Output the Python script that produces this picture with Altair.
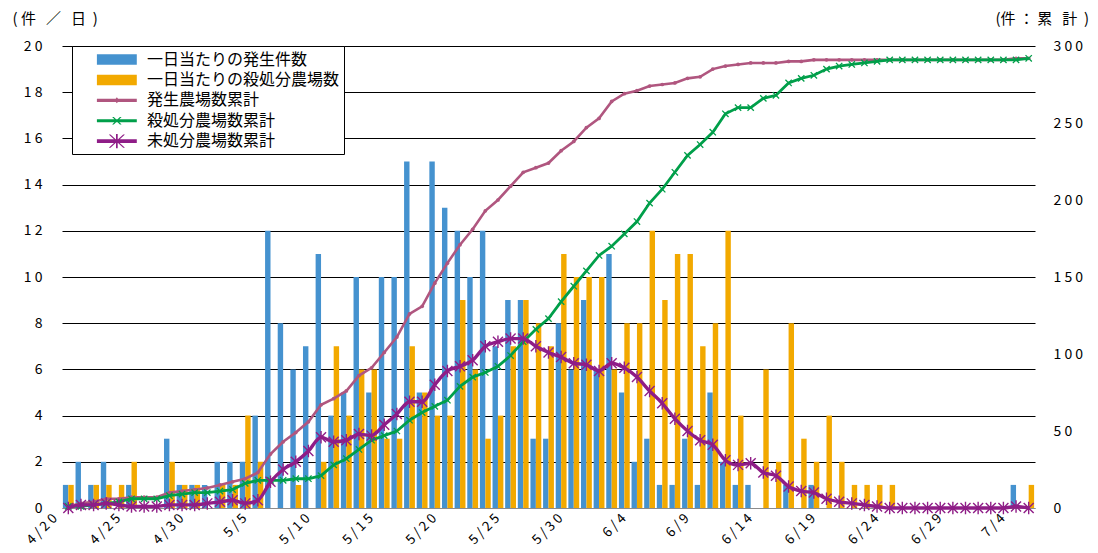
import altair as alt
import pandas as pd
import numpy as np

# ---- data ----
dates = [f"{d.month}/{d.day}" for d in pd.date_range("2010-04-20", "2010-07-05", freq="D")]

daily_cases = [1, 2, 1, 2, 0, 1, 0, 0, 3, 1, 1, 1, 2, 2, 2, 4,
               12, 8, 6, 7, 11, 4, 5, 10, 5, 10, 10,
               15, 5, 15, 13, 12, 10, 12, 7, 9, 9, 3, 3, 8,
               6, 9, 6, 11, 5, 2, 3, 1, 1, 3, 1, 5, 2, 1, 1,
               0, 0, 1, 0, 1,
               0, 0, 0, 0, 0, 0, 0, 0, 0, 0, 0, 0, 0, 0, 0,
               1, 0]
daily_culled = [1, 0, 1, 1, 1, 2, 0, 0, 2, 1, 1, 0, 1, 1, 4, 2,
                0, 0, 1, 0, 2, 7, 4, 6, 6, 3, 3,
                7, 5, 4, 4, 9, 6, 3, 4, 7, 9, 8, 7, 11,
                10, 10, 10, 6, 8, 8, 12, 9, 11, 11, 7, 8, 12, 4, 0,
                6, 2, 8, 3, 2, 4, 2, 1, 1, 1, 1,
                0, 0, 0, 0, 0, 0, 0, 0, 0, 0,
                1]
assert len(dates) == len(daily_cases) == len(daily_culled) == 77

S_CASE = "一日当たりの発生件数"
S_CULL = "一日当たりの殺処分農場数"
S_CUMC = "発生農場数累計"
S_CUMK = "殺処分農場数累計"
S_REM = "未処分農場数累計"
legend_names = [S_CASE, S_CULL, S_CUMC, S_CUMK, S_REM]

cum_cases = np.cumsum(daily_cases).tolist()
cum_culled = np.cumsum(daily_culled).tolist()
remaining = [a - b for a, b in zip(cum_cases, cum_culled)]

# ---- style ----
FONT = "Noto Sans CJK JP"
BLUE = "#4592CF"
ORANGE = "#F2A900"
PINK = "#B0567F"
GREEN = "#009F4A"
PURPLE = "#8F1D87"

NB = "\u00a0"
spaced = f"join(split(datum.label, ''), '{NB}')"

x_scale = alt.Scale(type="band", domain=dates, paddingInner=0, paddingOuter=0)
x_axis = alt.Axis(values=dates[::5], labelAngle=315, labelAlign="right", labelBaseline="top",
                  labelExpr=spaced, labelFont=FONT, labelFontSize=13.5, labelColor="#000000",
                  labelPadding=3, labelOffset=-18, labelOverlap=False, ticks=False,
                  domainColor="#8c8c8c", domainWidth=1, grid=False, title=None)
X = alt.X("date:N", scale=x_scale, axis=x_axis)

title_left = f"({NB}件{NB*3}／{NB*3}日{NB*2})"
title_right = f"(件{NB}：{NB}累{NB*3}計{NB*2})"

yl_axis = alt.Axis(orient="left", values=list(range(0, 21, 2)), format="d", labelExpr=spaced,
                   labelFont=FONT, labelFontSize=14, labelColor="#000000", labelPadding=20,
                   ticks=False, domain=False, grid=True,
                   gridColor={"condition": {"test": "datum.value === 0", "value": "#8c8c8c"},
                              "value": "#000000"},
                   gridWidth=1,
                   title=title_left, titleAngle=0, titleX=-50, titleY=-28,
                   titleAlign="left", titleBaseline="middle", titleFont=FONT,
                   titleFontSize=15, titleFontWeight="normal", titleColor="#000000")
YL = alt.Y("value:Q", scale=alt.Scale(domain=[0, 20], nice=False), axis=yl_axis)

yr_axis = alt.Axis(orient="right", values=list(range(0, 301, 50)), format="d", labelExpr=spaced,
                   labelFont=FONT, labelFontSize=14, labelColor="#000000", labelPadding=18,
                   ticks=False, domain=False, grid=False,
                   title=title_right, titleAngle=0, titleX=-40, titleY=-28,
                   titleAlign="left", titleBaseline="middle", titleFont=FONT,
                   titleFontSize=15, titleFontWeight="normal", titleColor="#000000")
YR = alt.Y("cum:Q", scale=alt.Scale(domain=[0, 300], nice=False), axis=yr_axis)

# ---- bars ----
case_df = pd.DataFrame({"date": dates, "series": S_CASE, "value": daily_cases})
cull_df = pd.DataFrame({"date": dates, "series": S_CULL, "value": daily_culled})
xoff = alt.XOffset("series:N", scale=alt.Scale(domain=[S_CASE, S_CULL], paddingInner=0,
                                               paddingOuter=0.165))
bar_case = alt.Chart(case_df).mark_bar(color=BLUE).encode(x=X, xOffset=xoff, y=YL)
bar_cull = alt.Chart(cull_df).mark_bar(color=ORANGE).encode(x=X, xOffset=xoff, y=YL)

# ---- cumulative lines ----
P_X = "M-1,-1L1,1M-1,1L1,-1"
P_AST = "M-1,-1L1,1M-1,1L1,-1M0,-1.25L0,1.25"


def cum_layers(values, name, color, lw, interp, point_kw):
    df = pd.DataFrame({"date": dates, "series": name, "cum": values})
    base = alt.Chart(df).encode(x=X, y=YR)
    line = base.mark_line(color=color, strokeWidth=lw, interpolate=interp)
    pts = base.mark_point(color=color, opacity=1, **point_kw)
    return [line, pts]


pink = cum_layers(cum_cases, S_CUMC, PINK, 2.6, "linear",
                  dict(filled=True, shape="circle", size=14))
green = cum_layers(cum_culled, S_CUMK, GREEN, 2.8, "linear",
                   dict(filled=False, shape=P_X, size=40, strokeWidth=1.3))
purple = cum_layers(remaining, S_REM, PURPLE, 3.4, "monotone",
                    dict(filled=False, shape=P_AST, size=100, strokeWidth=1.4))

# ---- legend (filled symbol paths) ----
p_rect = "M1.2,-0.55L5.4,-0.55L5.4,0.55L1.2,0.55Z"
p_pink = ("M1.2,-0.17L5.4,-0.17L5.4,0.17L1.2,0.17Z"
          "M3.3,-0.32L3.55,0L3.3,0.32L3.05,0Z")
p_green = ("M1.2,-0.16L5.4,-0.16L5.4,0.16L1.2,0.16Z"
           "M2.8,-0.4L2.98,-0.4L3.8,0.4L3.62,0.4Z"
           "M3.62,-0.4L3.8,-0.4L2.98,0.4L2.8,0.4Z")
p_purple = ("M1.2,-0.2L5.4,-0.2L5.4,0.2L1.2,0.2Z"
            "M2.45,-0.7L2.63,-0.7L4.15,0.7L3.97,0.7Z"
            "M3.97,-0.7L4.15,-0.7L2.63,0.7L2.45,0.7Z"
            "M3.21,-0.75L3.39,-0.75L3.39,0.75L3.21,0.75Z")

LEG = alt.Legend(title=None, orient="none", legendX=10, legendY=0, fillColor="white",
                 strokeColor="black", padding=4, symbolSize=361, symbolStrokeWidth=0,
                 symbolOpacity=1, labelOffset=52, rowPadding=2.4, labelFont=FONT,
                 labelFontSize=16, labelColor="#000000", labelLimit=400)

legend_df = pd.DataFrame({"date": dates[:5], "series": legend_names, "cum": [0] * 5})
legend_layer = alt.Chart(legend_df).transform_filter("false").mark_point(
    filled=True, opacity=1).encode(
    x=X, y=YR,
    color=alt.Color("series:N", scale=alt.Scale(domain=legend_names,
                                                range=[BLUE, ORANGE, PINK, GREEN, PURPLE]),
                    legend=LEG),
    shape=alt.Shape("series:N", scale=alt.Scale(domain=legend_names,
                                                range=[p_rect, p_rect, p_pink, p_green, p_purple]),
                    legend=LEG),
)

left = alt.layer(bar_case, bar_cull)
right = alt.layer(*pink, *green, *purple, legend_layer)

chart = alt.layer(left, right).resolve_scale(y="independent").properties(
    width=973, height=462,
    autosize=alt.AutoSizeParams(type="none"),
    padding={"left": 54, "top": 38, "right": 55, "bottom": 37},
    background="white",
).configure_view(stroke=None)

chart.save("out.html", embed_options={"renderer": "svg", "actions": False})
